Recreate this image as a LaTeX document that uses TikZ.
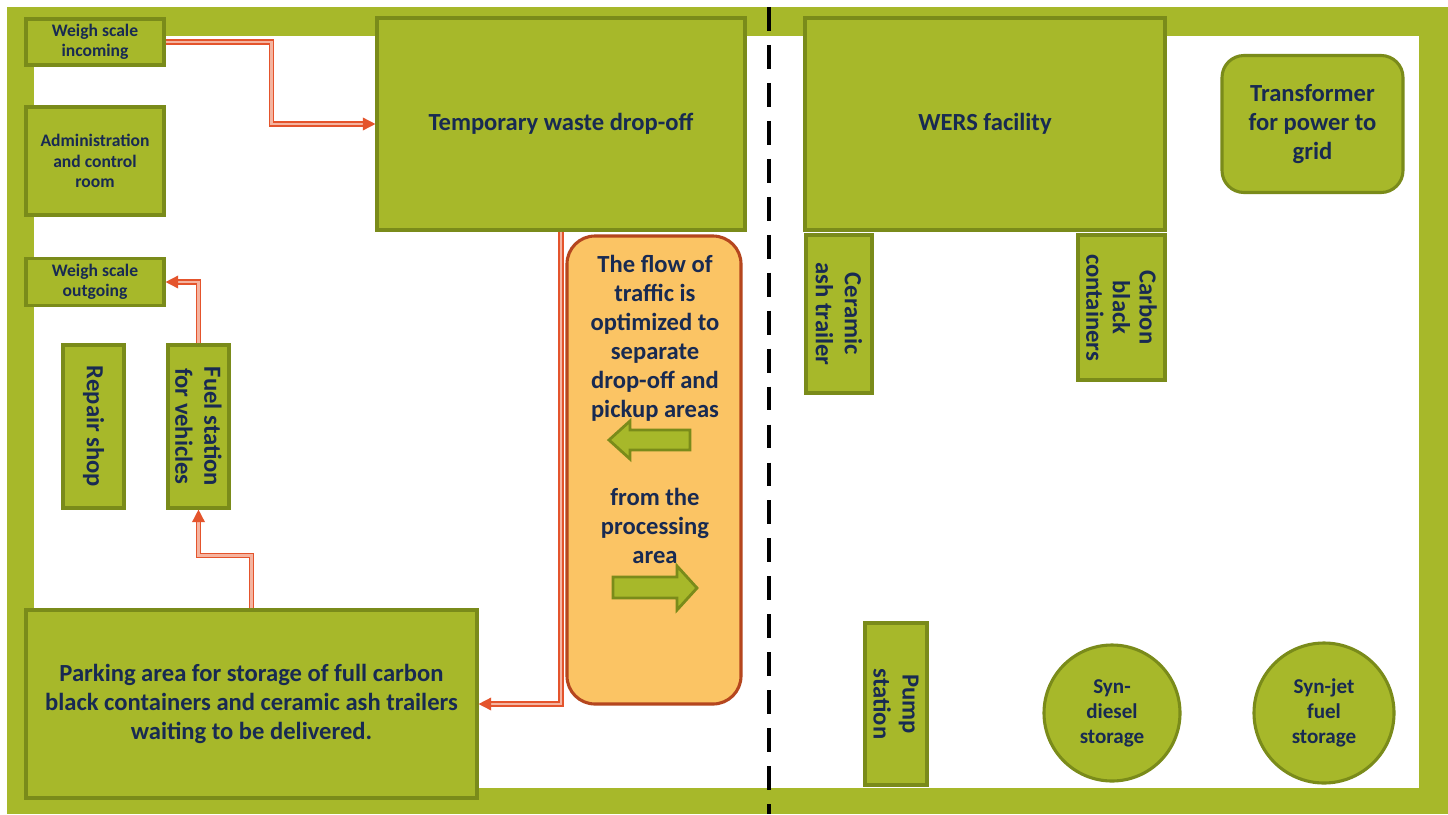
\documentclass[tikz,border=0pt]{standalone}
\usepackage{fontspec}
\setmainfont{Carlito}
\usetikzlibrary{arrows.meta}

\definecolor{sitegreen}{RGB}{167,184,42}
\definecolor{siteedge}{RGB}{122,139,26}
\definecolor{ink}{RGB}{24,42,82}
\definecolor{notefill}{RGB}{251,196,100}
\definecolor{noteedge}{RGB}{181,70,30}
\definecolor{arrred}{RGB}{228,84,44}
\definecolor{arrpale}{RGB}{245,180,160}

\begin{document}
\begin{tikzpicture}[x=0.25mm, y=-0.25mm,
  blk/.style={draw=siteedge, fill=sitegreen, line width=2.2pt, text=ink, align=center, inner sep=0pt,
    font=\bfseries\fontsize{17.5}{20.6}\selectfont},
  small/.style={font=\bfseries\fontsize{12.5}{14.5}\selectfont},
  tank/.style={blk, circle, font=\bfseries\fontsize{15}{17.8}\selectfont},
  note/.style={text=ink, align=center, font=\bfseries\fontsize{17.5}{20.6}\selectfont},
  flowln/.style={draw=arrred, line width=1.1pt, double=arrpale, double distance=1.5pt,
    -{Triangle[length=9pt,width=9pt]}},
  blockarrow/.style={fill=sitegreen, draw=siteedge, line width=2pt},
  ]
\useasboundingbox (0,0) rectangle (1448,814);
\fill[sitegreen] (7,7) rectangle (1448,814);
\fill[white] (34,36) rectangle (1419,788);
\draw[line width=2.8pt, dash pattern=on 17pt off 10pt] (769,7) -- (769,814);

% left half
\node[blk, small, minimum width=34.5mm, minimum height=11.5mm] (wsin) at (95,42) {Weigh scale\\incoming};
\node[blk, small, minimum width=34.5mm, minimum height=27mm] (admin) at (95,161) {Administration\\and control\\room};
\node[blk, minimum width=92mm, minimum height=53mm] (drop) at (561,124) {Temporary waste drop-off};
\node[blk, small, minimum width=34.5mm, minimum height=11.75mm] (wsout) at (95,282) {Weigh scale\\outgoing};
\node[blk, rotate=-90, minimum width=40.75mm, minimum height=15.25mm] (repair) at (93.5,426.5) {Repair shop};
\node[blk, rotate=-90, minimum width=40.75mm, minimum height=15.25mm] (fuel) at (198.5,426.5) {Fuel station\\for vehicles};
\node[blk, minimum width=112.75mm, minimum height=47mm] (park) at (251.5,704) {Parking area for storage of full carbon\\black containers and ceramic ash trailers\\waiting to be delivered.};

\node[draw=noteedge, fill=notefill, line width=2.2pt, rounded corners=7mm, minimum width=43.5mm, minimum height=117mm] (flow) at (654,470) {};
\node[note] (flowtxt) at (655,338) {The flow of\\traffic is\\optimized to\\separate\\drop-off and\\pickup areas};
\node[note] (fromtxt) at (655,526) {from the\\processing\\area};
\draw[blockarrow] (609,440) -- (630,421) -- (630,430) -- (690,430) -- (690,450) -- (630,450) -- (630,459) -- cycle;
\draw[blockarrow] (697,588) -- (677,566) -- (677,577) -- (613,577) -- (613,598) -- (677,598) -- (677,610) -- cycle;

% right half
\node[blk, minimum width=90mm, minimum height=53mm] (wers) at (985,124) {WERS facility};
\node[blk, rounded corners=5.5mm, minimum width=45.25mm, minimum height=34.25mm] (trans) at (1312.5,124) {Transformer\\for power to\\grid};
\node[blk, rotate=-90, minimum width=39.5mm, minimum height=16.5mm] (ceramic) at (839,314) {Ceramic\\ash trailer};
\node[blk, rotate=-90, minimum width=36.25mm, minimum height=21.75mm, font=\bfseries\fontsize{17.5}{19}\selectfont] (carbon) at (1121.5,307.5) {Carbon\\black\\containers};
\node[blk, rotate=-90, minimum width=40.5mm, minimum height=15.5mm] (pump) at (896,704) {Pump\\station};
\node[tank, minimum size=34mm] (diesel) at (1112,713) {Syn-\\diesel\\storage};
\node[tank, minimum size=35mm] (jet) at (1324,713) {Syn-jet\\fuel\\storage};

% traffic
\draw[flowln] (wsin.east) -- ++(106,0) |- (drop.west);
\draw[flowln] (fuel.west) |- (wsout.east);
\draw[flowln] (park.north) -- ++(0,-53) -| (fuel.east);
\draw[flowln] (drop.south) |- (park.east);
\end{tikzpicture}
\end{document}
